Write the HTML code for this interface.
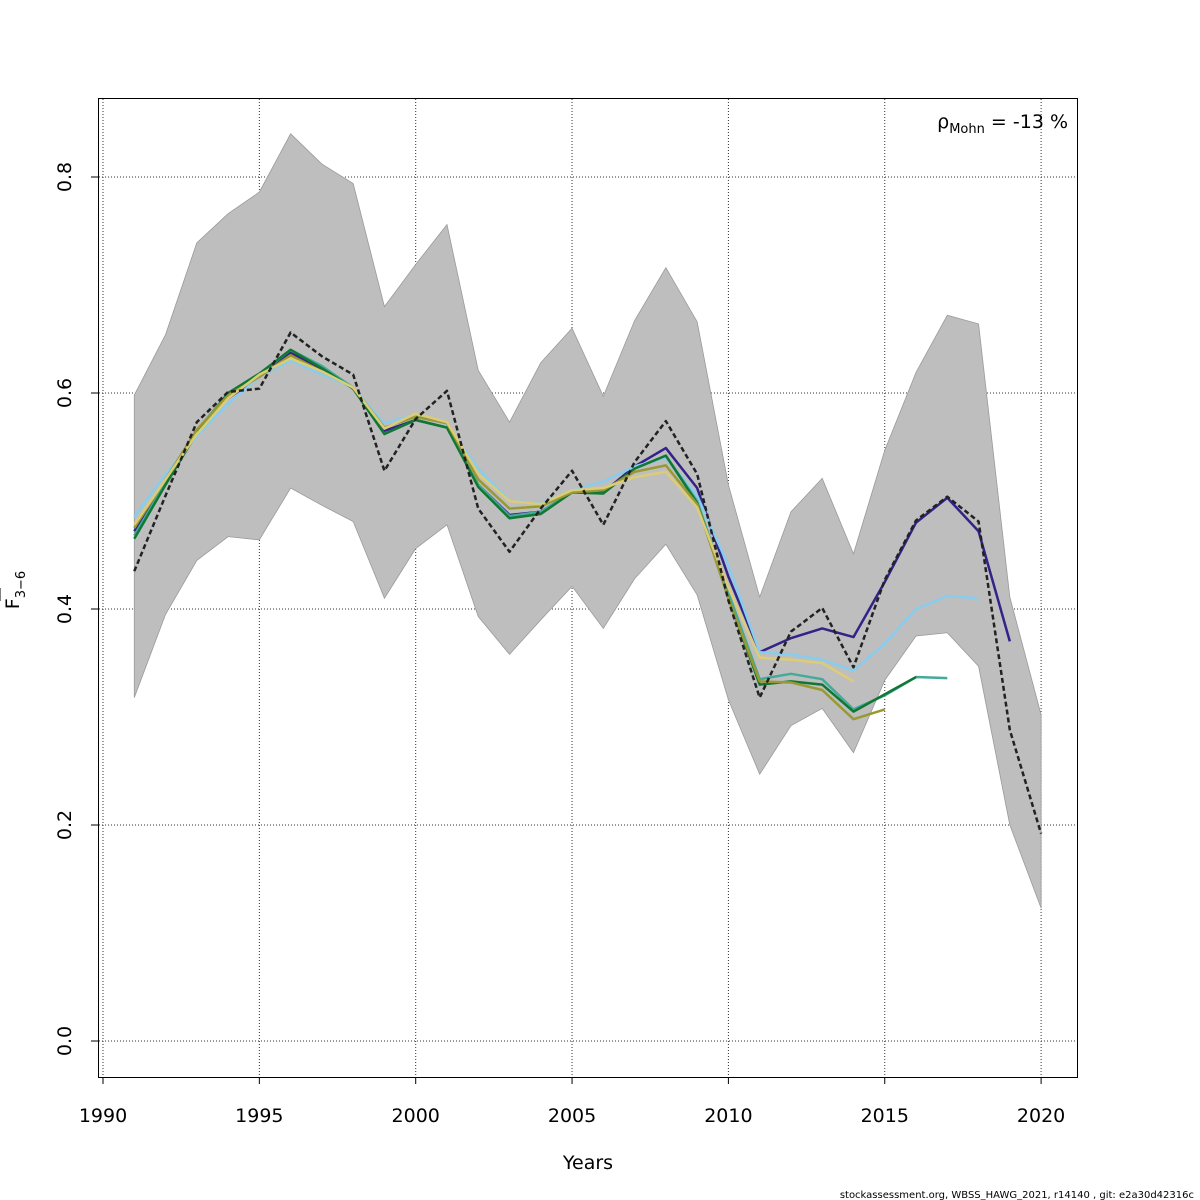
<!DOCTYPE html>
<html><head><meta charset="utf-8"><style>
body{margin:0;background:#fff;}
svg{display:block;font-family:"DejaVu Sans","Liberation Sans",sans-serif;}
</style></head><body>
<svg id="chart" width="1200" height="1200" viewBox="0 0 1200 1200">
<g id="grid"></g>
<g id="band"></g>
<g id="lines"></g>
<rect x="98.5" y="98.5" width="979" height="979" fill="none" stroke="#000" stroke-width="1"/>
<g id="axes"></g>
<text x="588" y="1169" font-size="19" text-anchor="middle">Years</text>
<g transform="translate(19,590) rotate(-90)">
<text x="0" y="0" font-size="19" text-anchor="middle">F<tspan font-size="13" dy="6">3−6</tspan></text>
<line x1="-11" y1="-19" x2="2" y2="-19" stroke="#000" stroke-width="1"/>
</g>
<text x="1068" y="128" font-size="19" text-anchor="end">ρ<tspan font-size="13" dy="5">Mohn</tspan><tspan dy="-5"> = -13 %</tspan></text>
<text x="1194" y="1198" font-size="10" text-anchor="end">stockassessment.org, WBSS_HAWG_2021, r14140 , git: e2a30d42316c</text>
</svg>
<script>
const years = [1991,1992,1993,1994,1995,1996,1997,1998,1999,2000,2001,2002,2003,2004,2005,2006,2007,2008,2009,2010,2011,2012,2013,2014,2015,2016,2017,2018,2019,2020];
const upper = [.598,.654,.739,.766,.786,.840,.812,.794,.680,.719,.756,.621,.573,.628,.660,.597,.667,.716,.666,.515,.411,.490,.521,.451,.547,.619,.672,.664,.411,.302];
const lower = [.318,.395,.445,.467,.464,.512,.496,.481,.410,.456,.478,.393,.358,.390,.421,.382,.428,.460,.413,.316,.247,.292,.308,.267,.334,.375,.378,.347,.200,.123];
const finalRun = [.435,.505,.573,.601,.604,.656,.634,.617,.528,.576,.602,.493,.453,.493,.528,.478,.536,.574,.525,.408,.318,.379,.401,.346,.427,.482,.504,.481,.288,.192];
const peel1 = [.472,.52,.565,.595,.615,.637,.622,.605,.565,.575,.568,.515,.487,.49,.508,.508,.532,.549,.512,.43,.36,.373,.382,.374,.425,.48,.503,.472,.37];
const peel2 = [.485,.525,.56,.59,.615,.63,.617,.605,.572,.58,.571,.53,.5,.498,.51,.518,.532,.54,.505,.44,.36,.358,.353,.343,.368,.4,.412,.41];
const peel3 = [.468,.517,.565,.6,.617,.64,.625,.605,.562,.575,.568,.515,.486,.49,.508,.507,.53,.542,.5,.415,.335,.34,.335,.307,.32,.337,.336];
const peel4 = [.465,.515,.563,.6,.618,.64,.623,.604,.562,.575,.568,.513,.484,.488,.508,.507,.53,.542,.498,.41,.33,.333,.33,.305,.321,.337];
const peel5 = [.475,.52,.566,.598,.615,.635,.62,.605,.568,.578,.572,.52,.493,.495,.508,.51,.527,.533,.497,.41,.333,.332,.325,.298,.307];
const peel6 = [.478,.52,.562,.595,.617,.632,.62,.605,.567,.581,.573,.525,.5,.497,.51,.512,.522,.527,.494,.42,.355,.353,.35,.333];
const xTicks = [1990,1995,2000,2005,2010,2015,2020];
const yTicks = [0,0.2,0.4,0.6,0.8];
const yTickLabels = ["0.0","0.2","0.4","0.6","0.8"];

const NS="http://www.w3.org/2000/svg";
const X = y => 103 + (y-1990)*31.27;
const Y = v => 1041 - v*1080;
function mk(tag, parent, attrs){const e=document.createElementNS(NS,tag);for(const k in attrs)e.setAttribute(k,attrs[k]);parent.appendChild(e);return e;}
const grid=document.getElementById('grid'), axes=document.getElementById('axes');
xTicks.forEach((t,i)=>{
  const g=mk('line',grid,{x1:X(t),x2:X(t),y1:99,y2:1077,stroke:'#333','stroke-width':1,'stroke-dasharray':'1,2'});
  
  
  const tk=mk('line',axes,{x1:X(t),x2:X(t),y1:1077,y2:1084,stroke:'#000'});
  
  
  const tl=mk('text',axes,{x:X(t),y:1122,'font-size':19,'text-anchor':'middle'});
  tl.textContent=t;
  
  
});
yTicks.forEach((t,i)=>{
  const g=mk('line',grid,{x1:99,x2:1077,y1:Y(t),y2:Y(t),stroke:'#333','stroke-width':1,'stroke-dasharray':'1,2'});
  
  
  const tk=mk('line',axes,{x1:91,x2:98,y1:Y(t),y2:Y(t),stroke:'#000'});
  
  
  const tl=mk('text',axes,{x:0,y:0,'font-size':19,'text-anchor':'middle',transform:`translate(71,${Y(t)}) rotate(-90)`});
  tl.textContent=yTickLabels[i];
  
  
});

const band=document.getElementById('band');
let d=years.map((y,i)=>(i?'L':'M')+X(y)+','+Y(upper[i])).join(' ');
for(let i=years.length-1;i>=0;i--) d+=' L'+X(years[i])+','+Y(lower[i]);
const bp=mk('path',band,{d:d+' Z',fill:'#bebebe',stroke:'#9a9a9a','stroke-width':0.8});



const lines=document.getElementById('lines');
function line(vals,color,w,name,dash){
  const pts=vals.map((v,i)=>X(years[i])+','+Y(v)).join(' ');
  const p=mk('polyline',lines,{points:pts,fill:'none',stroke:color,'stroke-width':w,'stroke-linejoin':'round'});
  if(dash)p.setAttribute('stroke-dasharray',dash);
  
  
}
line(peel1,'#332288',2.5,'peel-2019-line');
line(peel2,'#88CCEE',2.5,'peel-2018-line');
line(peel3,'#44AA99',2.5,'peel-2017-line');
line(peel4,'#117733',2.5,'peel-2016-line');
line(peel5,'#999933',2.5,'peel-2015-line');
line(peel6,'#DDCC77',2.5,'peel-2014-line');
line(finalRun,'#222',2.5,'final-run-line','5,3');
</script>
</body></html>
